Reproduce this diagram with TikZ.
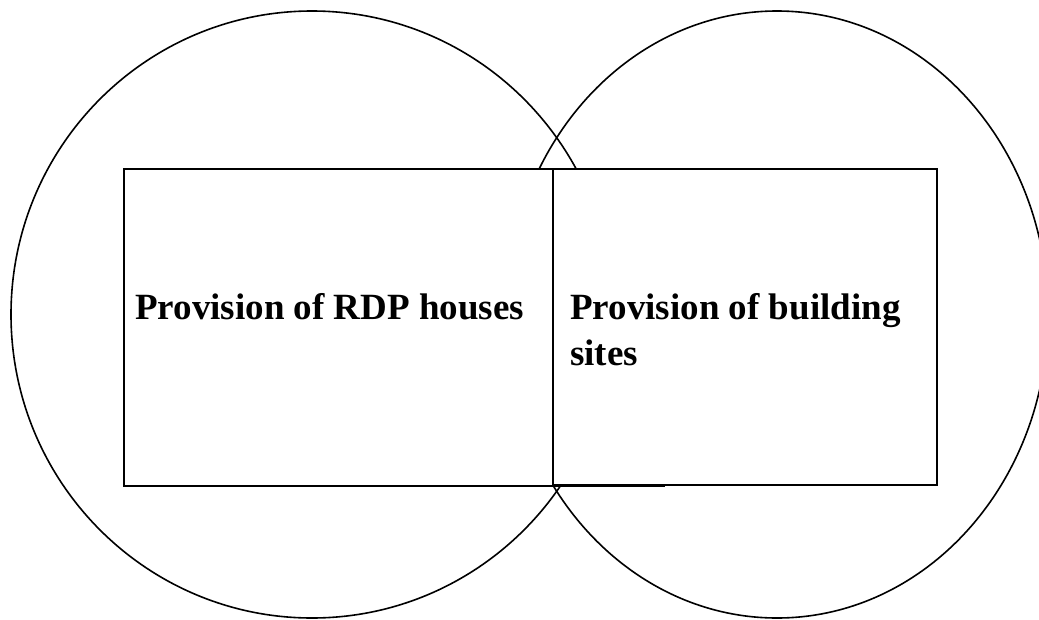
\documentclass[tikz,border=0pt]{standalone}
\usepackage{fontspec}
\setmainfont{Liberation Serif}
\begin{document}
\begin{tikzpicture}[x=1pt,y=-1pt,
  ring/.style={draw=black,line width=1.6pt},
  panel/.style={draw=black,line width=1.8pt,rectangle,inner sep=0pt},
  label/.style={font=\fontsize{37}{46}\selectfont\bfseries,inner sep=0pt,anchor=base west}]
\useasboundingbox (0,0) rectangle (1039,619);
\clip (0,0) rectangle (1039,619);
% two overlapping rings
\draw[ring] (312,314.5) ellipse [x radius=301,y radius=303.5];
\draw[ring] (777,314.5) ellipse [x radius=271,y radius=303.5];
% white panels over the rings
\node[panel,fill=white,minimum width=429pt,minimum height=317pt] (left) at (338.5,327.5) {};
\node[panel,fill=white,minimum width=384pt,minimum height=316pt] (right) at (745,327) {};
\draw[line width=3pt] (right.south west) -- ++(113,0) coordinate (edge);
% captions
\node[label] (lt) at (135,319) {Provision of RDP houses};
\node[label] (rt1) at (570,319) {Provision of building};
\node[label] (rt2) at (570,365) {sites};
\end{tikzpicture}
\end{document}
